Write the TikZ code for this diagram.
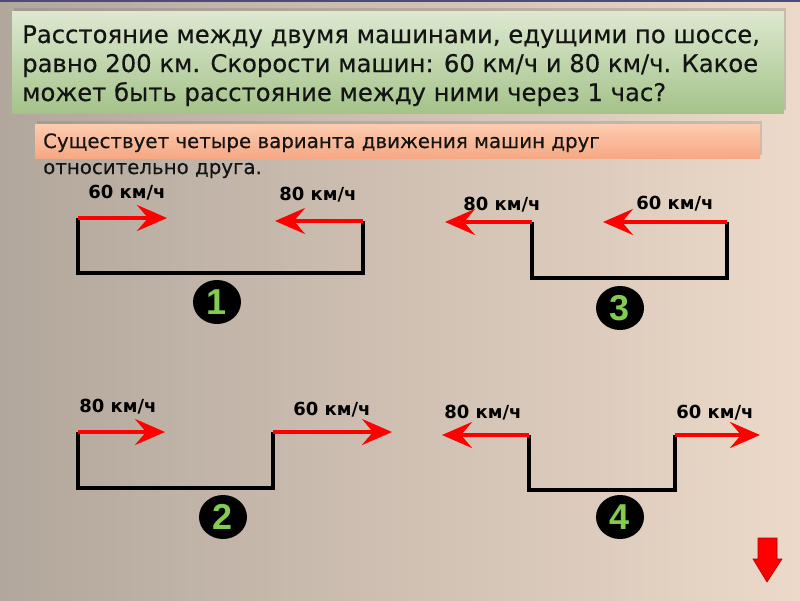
\documentclass[tikz,border=0pt]{standalone}
\usepackage{fontspec}
\setmainfont{DejaVu Sans}[FakeBold=0.4]
\newfontfamily\labfont{DejaVu Sans}
\newfontfamily\numfont{Liberation Sans}
\usetikzlibrary{arrows.meta,shadows,shapes.geometric}
\definecolor{bgL}{RGB}{178,167,156}
\definecolor{bgR}{RGB}{236,217,201}
\definecolor{gTop}{RGB}{222,232,208}
\definecolor{gBot}{RGB}{164,195,138}
\definecolor{oTop}{RGB}{252,204,176}
\definecolor{oBot}{RGB}{246,168,132}
\definecolor{numgreen}{RGB}{130,205,80}
\tikzset{
  titletext/.style={anchor=base west,inner sep=0pt,font=\fontsize{24.3}{29}\selectfont,text=black!92},
  subtext/.style={anchor=base west,inner sep=0pt,font=\fontsize{19.8}{26}\selectfont,text=black!92},
  speed/.style={inner sep=0pt,font=\labfont\bfseries\fontsize{18}{20}\selectfont},
  road/.style={line width=4pt,black,line join=miter},
  move/.style={line width=4pt,red,-{Stealth[length=30pt,width=26pt,inset=11pt]}},
  numcirc/.style={ellipse,fill=black,minimum width=48pt,minimum height=44pt,inner sep=0pt,
     font=\numfont\bfseries\fontsize{36}{36}\selectfont,text=numgreen},
}
\begin{document}
\begin{tikzpicture}[x=1pt,y=-1pt]
\useasboundingbox (0,0) rectangle (800,600);
\shade[left color=bgL,right color=bgR] (0,0) rectangle (800,600);
\fill[black!55!blue!40!gray] (0,0) rectangle (800,2);
% title box
\shade[top color=gTop,bottom color=gBot,drop shadow={opacity=0.35,shadow xshift=2pt,shadow yshift=3pt}]
  (12,11) rectangle (784,113);
\node[titletext] (t1) at (22,43) {Расстояние между двумя машинами, едущими по шоссе,};
\node[titletext] (t2) at (22,72) {равно 200 км. Скорости машин: 60 км/ч и 80 км/ч. Какое};
\node[titletext] (t3) at (22,101) {может быть расстояние между ними через 1 час?};
% subtitle box
\shade[top color=oTop,bottom color=oBot,drop shadow={opacity=0.3,shadow xshift=2pt,shadow yshift=3pt}]
  (35,124) rectangle (760,158);
\node[subtext] (s1) at (43,148) {Существует четыре варианта движения машин друг};
\node[subtext] (s2) at (43,174) {относительно друга.};

% ---- diagram 1
\coordinate (a1) at (78,218); \coordinate (b1) at (78,273);
\coordinate (c1) at (363,273); \coordinate (d1) at (363,221);
\coordinate (e1) at (167,218); \coordinate (f1) at (275,221);
\draw[road] (a1) -- (b1) -- (c1) -- (d1);
\draw[move] (a1) -- (e1);
\draw[move] (d1) -- (f1);
\node[speed] (l1a) at (127,193) {60 км/ч};
\node[speed] (l1b) at (318,195) {80 км/ч};
\node[numcirc] (n1) at (217,302) {1};

% ---- diagram 3
\coordinate (a3) at (532,222); \coordinate (b3) at (532,278);
\coordinate (c3) at (727,278); \coordinate (d3) at (727,222);
\coordinate (e3) at (445,222); \coordinate (f3) at (603,222);
\draw[road] (a3) -- (b3) -- (c3) -- (d3);
\draw[move] (a3) -- (e3);
\draw[move] (d3) -- (f3);
\node[speed] (l3a) at (502,205) {80 км/ч};
\node[speed] (l3b) at (675,204) {60 км/ч};
\node[numcirc] (n3) at (620,308) {3};

% ---- diagram 2
\coordinate (a2) at (78,432); \coordinate (b2) at (78,488);
\coordinate (c2) at (273,488); \coordinate (d2) at (273,432);
\coordinate (e2) at (165,432); \coordinate (f2) at (392,432);
\draw[road] (a2) -- (b2) -- (c2) -- (d2);
\draw[move] (a2) -- (e2);
\draw[move] (d2) -- (f2);
\node[speed] (l2a) at (118,407) {80 км/ч};
\node[speed] (l2b) at (332,410) {60 км/ч};
\node[numcirc] (n2) at (223,517) {2};

% ---- diagram 4
\coordinate (a4) at (529,435); \coordinate (b4) at (529,490);
\coordinate (c4) at (675,490); \coordinate (d4) at (675,435);
\coordinate (e4) at (442,435); \coordinate (f4) at (760,435);
\draw[road] (a4) -- (b4) -- (c4) -- (d4);
\draw[move] (a4) -- (e4);
\draw[move] (d4) -- (f4);
\node[speed] (l4a) at (483,413) {80 км/ч};
\node[speed] (l4b) at (715,413) {60 км/ч};
\node[numcirc] (n4) at (620,517) {4};

% ---- down arrow button
\fill[red,draw=red!70!black,line width=0.6pt]
  (758,538) -- (777,538) -- (777,559) -- (782,559) -- (767,582) -- (753,559) -- (758,559) -- cycle;
\end{tikzpicture}
\end{document}
